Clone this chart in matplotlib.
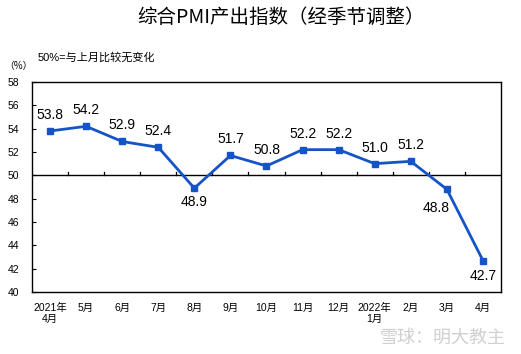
import matplotlib
matplotlib.use("Agg")
import matplotlib.pyplot as plt

plt.rcParams['font.family'] = ['Liberation Sans', 'Noto Sans CJK SC', 'DejaVu Sans']

categories = ["2021年\n4月", "5月", "6月", "7月", "8月", "9月", "10月", "11月", "12月",
              "2022年\n1月", "2月", "3月", "4月"]
values = [53.8, 54.2, 52.9, 52.4, 48.9, 51.7, 50.8, 52.2, 52.2, 51.0, 51.2, 48.8, 42.7]
y_ticks = [40, 42, 44, 46, 48, 50, 52, 54, 56, 58]

# label placement (pixel offsets) per point: index -> (dx, dy, va)
label_style = {4: (0, -7, 'top'), 11: (-11, -12, 'top'), 12: (0, -8, 'top')}

color = "#1553C8"

fig = plt.figure(figsize=(5.21, 3.54), dpi=100)
ax = fig.add_axes([0.0614, 0.1751, 0.9002, 0.5933])

x = list(range(len(values)))
ax.plot(x, values, color=color, lw=2, marker='s', markersize=4.5, zorder=3)

ax.set_xlim(-0.5, len(values) - 0.5)
ax.set_ylim(40, 58)
ax.axhline(50, color='black', lw=1, zorder=2)

# category boundary ticks on the 50 line
for b in range(1, len(values)):
    ax.plot([b - 0.5, b - 0.5], [50, 50.3], color='black', lw=0.9, zorder=2)

for i, (xi, v) in enumerate(zip(x, values)):
    dx, dy, va = label_style.get(i, (0, 9, 'bottom'))
    ax.annotate(f"{v:.1f}", (xi, v), xytext=(dx, dy), textcoords='offset pixels',
                ha='center', va=va, fontsize=10, color='black')

ax.set_yticks(y_ticks)
ax.set_yticklabels([str(t) for t in y_ticks], fontsize=7.5)
ax.tick_params(axis='y', direction='in', length=3, width=0.8, pad=9)
ax.set_xticks(x)
ax.set_xticklabels(categories, fontsize=7.5, family=['Liberation Sans', 'Noto Sans CJK SC'],
                   linespacing=1.1)
ax.tick_params(axis='x', length=0, pad=8)
for s in ax.spines.values():
    s.set_linewidth(1.0)
    s.set_color('black')

fig.text(0.54, 0.952, "综合PMI产出指数（经季节调整）", ha='center', va='center',
         fontsize=14, family=['Noto Sans CJK SC'])
fig.text(0.073, 0.838, "50%=与上月比较无变化", ha='left', va='center', fontsize=8,
         family=['Liberation Sans', 'Noto Sans CJK SC'])
fig.text(0.035, 0.813, "（%）", ha='center', va='center', fontsize=7,
         family=['Noto Sans CJK SC'])
fig.text(0.97, 0.02, "雪球：明大教主", ha='right', va='bottom', fontsize=13,
         color='#D0D0D0', family=['Noto Sans CJK SC'])

fig.savefig("out.png", dpi=100)
